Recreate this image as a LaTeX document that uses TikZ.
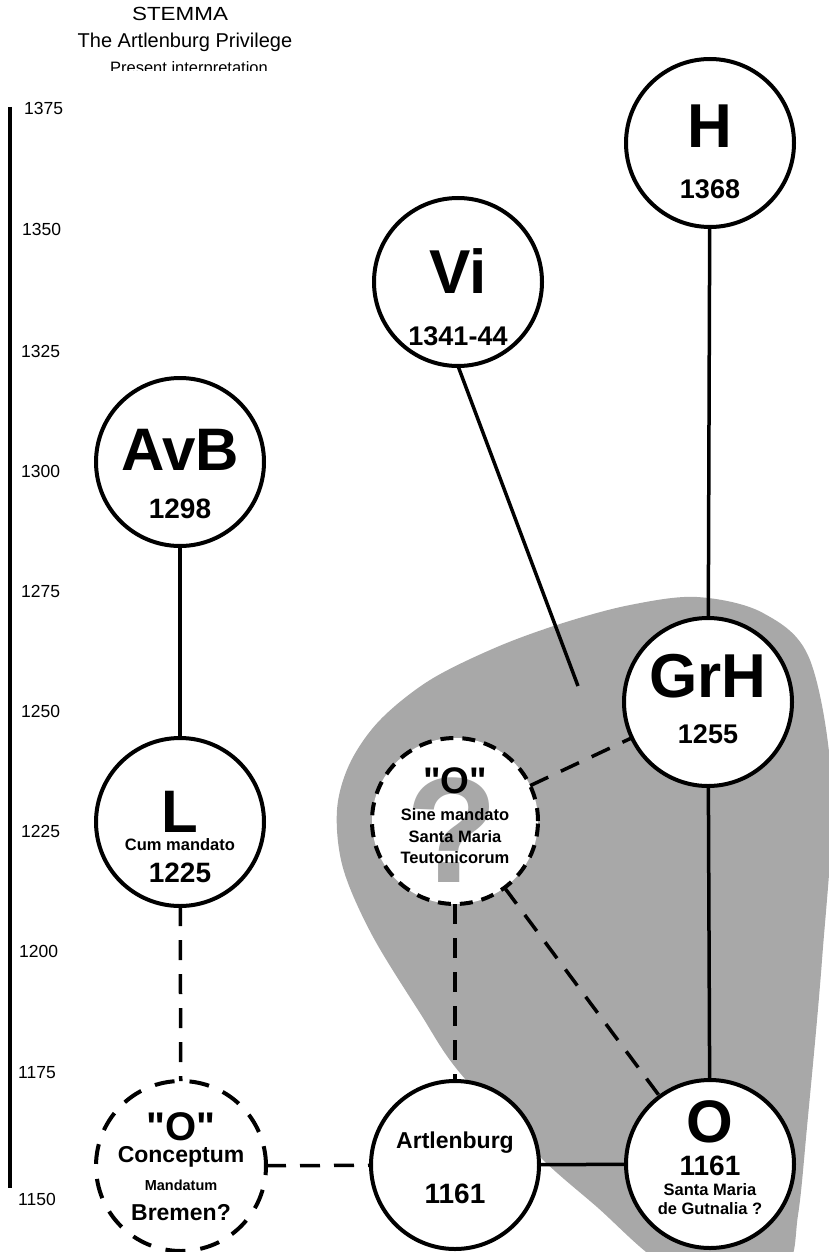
\documentclass[tikz,border=0pt]{standalone}
\usepackage{fontspec}
\setmainfont{Liberation Sans}[Ligatures=TeXOff]
\definecolor{blobgray}{RGB}{168,168,168}
\newcommand{\fsz}[1]{\fontsize{#1}{#1}\selectfont}
\tikzset{
  circ/.style={circle, draw=black, line width=4pt, fill=white,
    minimum size=168pt, inner sep=0pt, outer sep=0pt},
  dcirc/.style={circ, minimum size=166pt, dash pattern=on 13pt off 9pt},
  link/.style={line width=3.5pt},
  dlink/.style={link, dash pattern=on 20pt off 14pt},
  txt/.style={anchor=base, inner sep=0pt, outer sep=0pt},
  yearlbl/.style={anchor=base west, inner sep=0pt, font=\fsz{17.5}},
}
\begin{document}
\begin{tikzpicture}[x=1pt, y=-1pt]
\useasboundingbox (0,0) rectangle (829,1252);

% shaded group
\begin{scope}
  \clip (0,0) rectangle (829,1252);
  \fill[blobgray] plot[smooth cycle, tension=0.55] coordinates {
    (697,597) (763,613) (810,660) (832,790) (822,960) (807,1127)
    (798,1215) (785,1268) (720,1280) (660,1262) (597,1207) (540,1157)
    (460,1073) (420,1013) (372,935) (343,868) (337,810) (350,763)
    (380,720) (430,680) (497,647) (563,623) (630,605)};
\end{scope}

% title
\node[txt, font=\fsz{19}] (title) at (180,21) {\scalebox{1.18}[1]{STEMMA}};
\node[txt, font=\fsz{20}] (subtitle) at (185,48) {The Artlenburg Privilege};
\begin{scope}
  \clip (0,55) rectangle (400,71);
  \node[txt, font=\fsz{16.5}] (interp) at (189,74) {Present interpretation};
\end{scope}

% time axis
\coordinate (axtop) at (9.5,107);
\coordinate (axbot) at (9.5,1188);
\draw[line width=4pt] (axtop) -- (axbot);
\foreach \yr/\xx/\yy in {1375/24/115, 1350/22/235, 1325/21/357, 1300/21/477,
    1275/21/597, 1250/21/717, 1225/21/837, 1200/19/957, 1175/18/1078, 1150/18/1205}
  \node[yearlbl] (y\yr) at (\xx,\yy) {\yr};

% manuscripts
\node[circ] (H) at (710,143) {};
\node[circ] (Vi) at (458,282) {};
\node[circ] (AvB) at (180,462) {};
\node[circ] (GrH) at (708,702) {};
\node[circ] (L) at (180,822) {};
\node[dcirc, path picture={
    \node[anchor=base, inner sep=0pt, text=blobgray, font=\bfseries\fsz{150}]
      at ([xshift=-3pt, yshift=-61pt]path picture bounding box.center) {?};}]
  (Os) at (455,821) {};
\node[dcirc, minimum size=170pt, dash pattern=on 20pt off 15pt] (Oc) at (181,1166) {};
\node[circ] (Art) at (455,1165) {};
\node[circ] (O) at (710,1164) {};

% connections
\coordinate (viend) at (578,686);
\draw[link] (Vi.south) -- (viend);
\draw[link] (H) -- (GrH);
\draw[link] (AvB) -- (L);
\draw[link] (GrH) -- (O);
\draw[link] (Art) -- (O);
\draw[dlink] (Os) -- (GrH);
\draw[dlink] (Os) -- (Art);
\draw[dlink] (Os) -- (O);
\draw[dlink] (L) -- (Oc);
\draw[dlink] (Oc) -- (Art);

% labels
\node[txt, font=\bfseries\fsz{62}] (Hn) at (710,148) {H};
\node[txt, font=\bfseries\fsz{27}] (Hy) at (710,198) {1368};
\node[txt, font=\bfseries\fsz{62}] (Vin) at (458,293) {Vi};
\node[txt, font=\bfseries\fsz{27}] (Viy) at (458,345) {1341-44};
\node[txt, font=\bfseries\fsz{60}] (AvBn) at (180,470) {AvB};
\node[txt, font=\bfseries\fsz{28}] (AvBy) at (180,518) {1298};
\node[txt, font=\bfseries\fsz{62}] (GrHn) at (708,697) {GrH};
\node[txt, font=\bfseries\fsz{27}] (GrHy) at (708,743) {1255};
\node[txt, font=\bfseries\fsz{60}] (Ln) at (180,832) {L};
\node[txt, font=\bfseries\fsz{16.5}] (Lm) at (180,850) {Cum mandato};
\node[txt, font=\bfseries\fsz{28}] (Ly) at (180,882) {1225};
\node[txt, font=\bfseries\fsz{37}] (Osn) at (455,793) {"O"};
\node[txt, font=\bfseries\fsz{16.5}] (Os1) at (455,820) {Sine mandato};
\node[txt, font=\bfseries\fsz{16.5}] (Os2) at (455,842) {Santa Maria};
\node[txt, font=\bfseries\fsz{16.5}] (Os3) at (455,863) {Teutonicorum};
\node[txt, font=\bfseries\fsz{40}] (Ocn) at (181,1140) {"O"};
\node[txt, font=\bfseries\fsz{23}] (Oc1) at (181,1162) {Conceptum};
\node[txt, font=\bfseries\fsz{14.5}] (Oc2) at (181,1190) {Mandatum};
\node[txt, font=\bfseries\fsz{23}] (Oc3) at (181,1220) {Bremen?};
\node[txt, font=\bfseries\fsz{23}] (Artn) at (455,1148) {Artlenburg};
\node[txt, font=\bfseries\fsz{28}] (Arty) at (455,1203) {1161};
\node[txt, font=\bfseries\fsz{60}] (On) at (710,1142) {O};
\node[txt, font=\bfseries\fsz{28}] (Oy) at (710,1175) {1161};
\node[txt, font=\bfseries\fsz{16.5}] (O1) at (710,1195) {Santa Maria};
\node[txt, font=\bfseries\fsz{16.5}] (O2) at (710,1214) {de Gutnalia ?};
\end{tikzpicture}
\end{document}
